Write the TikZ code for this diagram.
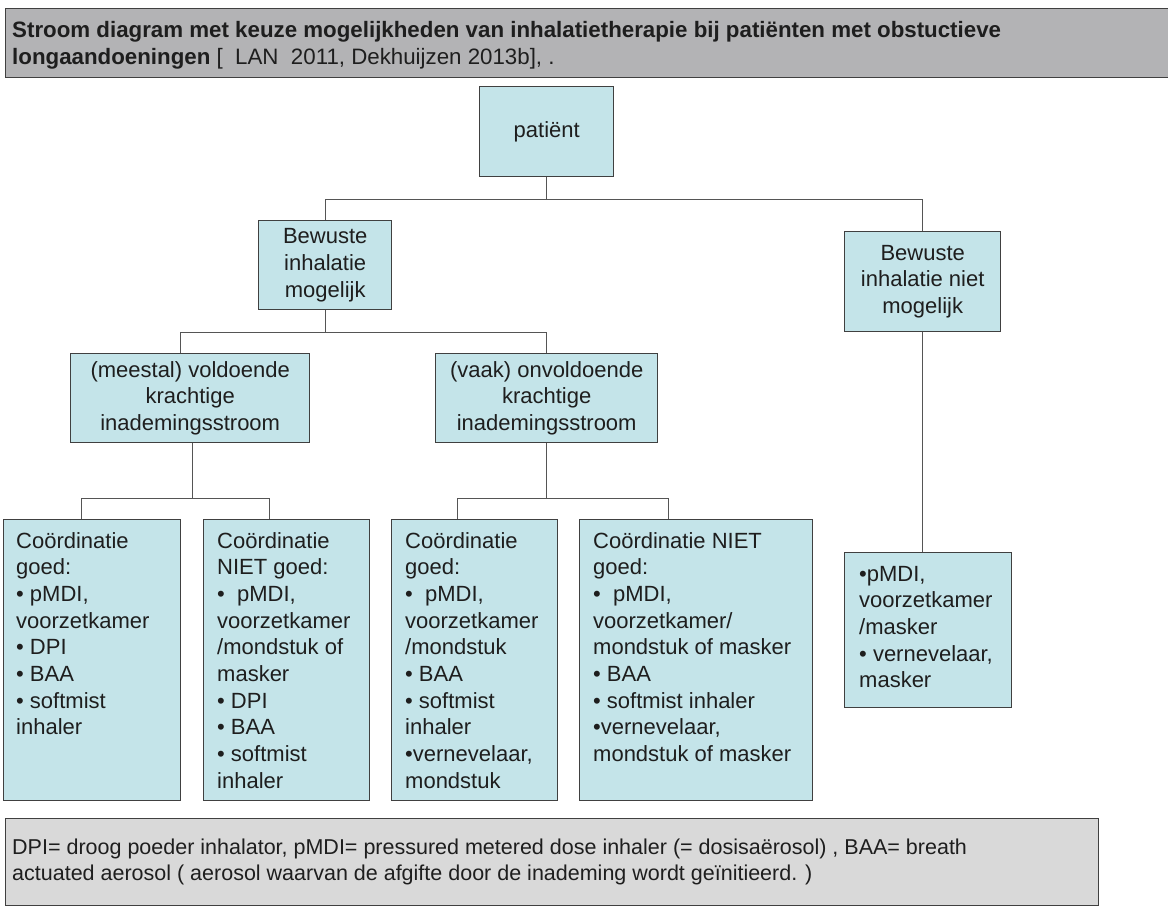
\documentclass[tikz,border=0pt]{standalone}
\usepackage{fontspec}
\setmainfont{Liberation Sans}
\usetikzlibrary{calc}
\definecolor{boxfill}{RGB}{196,228,233}
\definecolor{boxline}{RGB}{64,64,64}
\definecolor{conline}{RGB}{85,85,85}
\definecolor{titlefill}{RGB}{179,179,181}
\definecolor{notefill}{RGB}{217,217,217}
\definecolor{txt}{RGB}{30,30,30}
\begin{document}
\begin{tikzpicture}[x=1pt,y=-1pt,
  every node/.style={text=txt, font=\fontsize{22}{26.67}\selectfont},
  boxnode/.style={draw=boxline, line width=1.4pt, fill=boxfill, inner sep=0pt, anchor=north west},
  midbox/.style={boxnode, align=center},
  leaftext/.style={anchor=north west, inner sep=0pt, align=left},
  banner/.style={draw=boxline, line width=1.4pt, inner sep=0pt, anchor=north west},
  titlefont/.style={anchor=north west, inner sep=0pt, align=left, font=\fontsize{22.3}{27}\selectfont},
  notefont/.style={anchor=north west, inner sep=0pt, align=left, font=\fontsize{21.5}{26}\selectfont},
  conn/.style={draw=conline, line width=1.1pt}]
\useasboundingbox (0,0) rectangle (1168,910);

% title banner (text baselines at y = 37 and 64)
\node[banner, fill=titlefill, minimum width=1175, minimum height=69] (title) at (5,8) {};
\node[titlefont] (titletext) at ($(title.north west)+(7,29-0.7*27)$)
  {\strut\bfseries Stroom diagram met keuze mogelijkheden van inhalatietherapie bij patiënten met obstuctieve\\
   {\bfseries longaandoeningen} [\ \ LAN\ \ 2011, Dekhuijzen 2013b], .};

% upper boxes
\node[midbox, minimum width=134, minimum height=90] (patient) at (479,86) {patiënt};
\node[midbox, minimum width=133, minimum height=89] (b1) at (258,220) {Bewuste\\inhalatie\\mogelijk};
\node[midbox, minimum width=156, minimum height=100] (b2) at (844,231) {Bewuste\\inhalatie niet\\mogelijk};
\node[midbox, minimum width=239, minimum height=89] (m1) at (70,353) {(meestal) voldoende\\krachtige\\inademingsstroom};
\node[midbox, minimum width=222, minimum height=89] (m2) at (435,353) {(vaak) onvoldoende\\krachtige\\inademingsstroom};

% leaves (first baseline 29 below the top edge)
\node[boxnode, minimum width=177, minimum height=281] (l1) at (3,519) {};
\node[leaftext] (l1t) at ($(l1.north west)+(13,29-0.7*26.67)$)
  {\strut Coördinatie\\goed:\\• pMDI,\\voorzetkamer\\• DPI\\• BAA\\• softmist\\inhaler};
\node[boxnode, minimum width=166, minimum height=281] (l2) at (203,519) {};
\node[leaftext] (l2t) at ($(l2.north west)+(14,29-0.7*26.67)$)
  {\strut Coördinatie\\NIET goed:\\•\ \ pMDI,\\voorzetkamer\\/mondstuk of\\masker\\• DPI\\• BAA\\• softmist\\inhaler};
\node[boxnode, minimum width=166, minimum height=281] (l3) at (391,519) {};
\node[leaftext] (l3t) at ($(l3.north west)+(14,29-0.7*26.67)$)
  {\strut Coördinatie\\goed:\\•\ \ pMDI,\\voorzetkamer\\/mondstuk\\• BAA\\• softmist\\inhaler\\•vernevelaar,\\mondstuk};
\node[boxnode, minimum width=233, minimum height=281] (l4) at (579,519) {};
\node[leaftext] (l4t) at ($(l4.north west)+(14,29-0.7*26.67)$)
  {\strut Coördinatie NIET\\goed:\\•\ \ pMDI,\\voorzetkamer/\\mondstuk of masker\\• BAA\\• softmist inhaler\\•vernevelaar,\\mondstuk of masker};
\node[boxnode, minimum width=167, minimum height=155] (l5) at (844,552) {};
\node[leaftext] (l5t) at ($(l5.north west)+(15,29-0.7*26.67)$)
  {\strut •pMDI,\\voorzetkamer\\/masker\\• vernevelaar,\\masker};

% footer (text baselines at y = 854 and 880)
\node[banner, fill=notefill, minimum width=1093, minimum height=87] (note) at (5,818) {};
\node[notefont] (notetext) at ($(note.north west)+(7,36-0.7*26)$)
  {\strut DPI= droog poeder inhalator, pMDI= pressured metered dose inhaler (= dosisaërosol) , BAA= breath\\
   actuated aerosol ( aerosol waarvan de afgifte door de inademing wordt geïnitieerd. )};

% connectors
\coordinate (j1) at ($(patient.south)+(0,22)$);
\draw[conn] (patient.south) -- (j1);
\draw[conn] (b1.north) |- (j1) -| (b2.north);

\coordinate (j2) at ($(b1.south)+(0,22)$);
\coordinate (m1in) at ($(m1.north)+(-9.5,0)$);
\draw[conn] (b1.south) -- (j2);
\draw[conn] (m1in) |- (j2) -| (m2.north);

\coordinate (m1out) at ($(m1.south)+(2.5,0)$);
\coordinate (j3) at ($(m1out)+(0,55)$);
\coordinate (l1in) at ($(l1.north)+(-10.5,0)$);
\coordinate (l2in) at ($(l2.north)+(-17,0)$);
\draw[conn] (m1out) -- (j3);
\draw[conn] (l1in) |- (j3) -| (l2in);

\coordinate (j4) at ($(m2.south)+(0,55)$);
\coordinate (l3in) at ($(l3.north)+(-17,0)$);
\coordinate (l4in) at ($(l4.north)+(-27.5,0)$);
\draw[conn] (m2.south) -- (j4);
\draw[conn] (l3in) |- (j4) -| (l4in);

\draw[conn] (b2.south) -- (b2.south |- l5.north);
\end{tikzpicture}
\end{document}
